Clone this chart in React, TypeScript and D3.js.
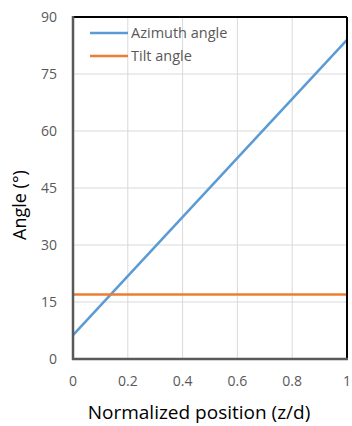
import React from "react";
import * as d3 from "d3";

const positions = [0, 1];
const azimuth = [6.3, 84];
const tilt = [17, 17];
const xTicks = [0, 0.2, 0.4, 0.6, 0.8, 1];
const yTicks = [0, 15, 30, 45, 60, 75, 90];
const seriesNames = ["Azimuth angle", "Tilt angle"];
const seriesColors = ["#5B9BD5", "#ED7D31"];

export default function App() {
  const W = 352, H = 426;
  const L = 73, R = 347, T = 17, B = 359;
  const x = d3.scaleLinear().domain([0, 1]).range([L, R]);
  const y = d3.scaleLinear().domain([0, 90]).range([B, T]);
  const line = d3.line<[number, number]>().x(d => x(d[0])).y(d => y(d[1]));
  const series = [azimuth, tilt].map(v => positions.map((p, i) => [p, v[i]] as [number, number]));
  const font = "'Open Sans', 'Liberation Sans', sans-serif";
  return (
    <svg width={W} height={H} style={{ position: "absolute", left: 0, top: 0, background: "#fff" }} fontFamily={font}>
      {xTicks.slice(1, -1).map(t => (
        <line key={"gx" + t} x1={x(t)} x2={x(t)} y1={T} y2={B} stroke="#D9D9D9" strokeWidth={1} />
      ))}
      {yTicks.slice(1, -1).map(t => (
        <line key={"gy" + t} x1={L} x2={R} y1={y(t)} y2={y(t)} stroke="#D9D9D9" strokeWidth={1} />
      ))}
      {series.map((s, i) => (
        <path key={i} d={line(s) || ""} fill="none" stroke={seriesColors[i]} strokeWidth={2.5} />
      ))}
      <line x1={L} x2={R} y1={T} y2={T} stroke="#000" strokeWidth={2} />
      <line x1={R} x2={R} y1={T} y2={B} stroke="#000" strokeWidth={2} />
      <line x1={L} x2={L} y1={T - 1} y2={B + 1} stroke="#595959" strokeWidth={2.5} />
      <line x1={L - 1} x2={R + 1} y1={B} y2={B} stroke="#595959" strokeWidth={2.5} />
      {yTicks.map(t => (
        <text key={"yt" + t} x={57} y={y(t)} dy="0.35em" textAnchor="end" fontSize={14} fill="#595959">{t}</text>
      ))}
      {xTicks.map(t => (
        <text key={"xt" + t} x={x(t)} y={381} dy="0.35em" textAnchor="middle" fontSize={14} fill="#595959">{String(t)}</text>
      ))}
      <text transform={`translate(20,205) rotate(-90)`} textAnchor="middle" dy="0.35em" fontSize={18} fill="#000">Angle (°)</text>
      <text x={199} y={412} textAnchor="middle" dy="0.35em" fontSize={19} fill="#000">Normalized position (z/d)</text>
      {seriesNames.map((n, i) => (
        <g key={n}>
          <line x1={90} x2={128} y1={33 + i * 23} y2={33 + i * 23} stroke={seriesColors[i]} strokeWidth={2.5} />
          <text x={131} y={33 + i * 23} dy="0.35em" fontSize={14.5} fill="#595959">{n}</text>
        </g>
      ))}
    </svg>
  );
}
